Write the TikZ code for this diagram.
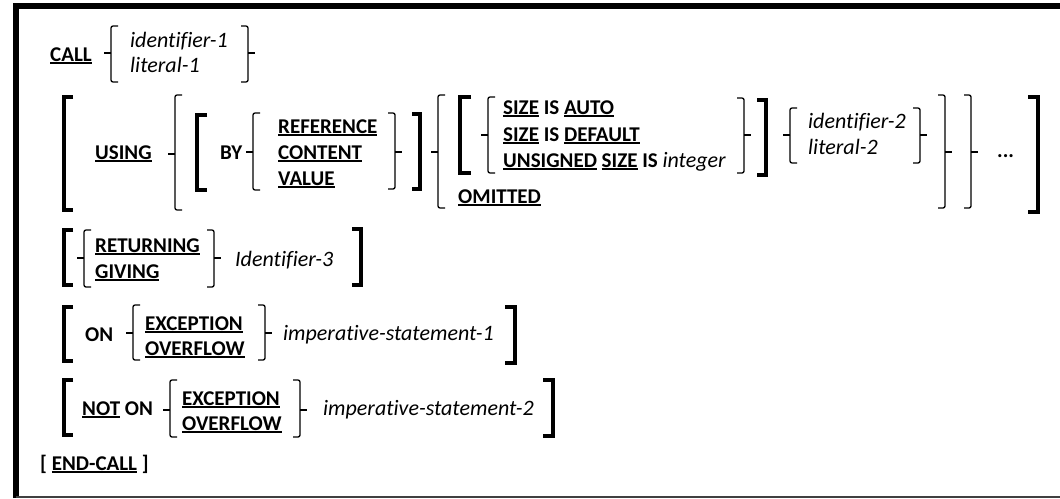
\documentclass[tikz,border=0pt]{standalone}
\usepackage{fontspec}
\setmainfont[Ligatures=NoCommon]{Carlito}
\newcommand\kwu[1]{\setbox0\hbox{\bfseries #1}\rlap{\rule[-2.8pt]{\wd0}{1.5pt}}\copy0\relax}
\newcommand\kwb[1]{\textbf{#1}}
\newcommand\idf[1]{{\fontsize{22}{24}\selectfont\itshape #1}}
\tikzset{
  txt/.style={inner sep=0pt, anchor=base west, font=\fontsize{21}{24}\selectfont},
  br/.style={line width=1.3pt, rounded corners=2pt},
  bk/.style={line width=3.6pt, line join=miter, line cap=butt},
}
% opening brace: xv, top, bottom, mid
\newcommand\obr[4]{\draw[br] ({#1+7},#2) -- (#1,#2) -- (#1,#3) -- ({#1+7},#3); \draw[br] (#1,#4) -- ({#1-7},#4);}
% closing brace
\newcommand\cbr[4]{\draw[br] ({#1-7},#2) -- (#1,#2) -- (#1,#3) -- ({#1-7},#3); \draw[br] (#1,#4) -- ({#1+7},#4);}
% opening bracket: outer-left x, right x, top, bottom
\newcommand\obk[4]{\draw[bk] (#2,{#3+1.8}) -- ({#1+1.8},{#3+1.8}) -- ({#1+1.8},{#4-1.8}) -- (#2,{#4-1.8});}
% closing bracket: outer-right x, left x, top, bottom
\newcommand\cbk[4]{\draw[bk] (#2,{#3+1.8}) -- ({#1-1.8},{#3+1.8}) -- ({#1-1.8},{#4-1.8}) -- (#2,{#4-1.8});}
\begin{document}
\begin{tikzpicture}[x=1pt,y=-1pt]
\useasboundingbox (0,0) rectangle (1060,498);
\fill[white] (0,0) rectangle (1060,498);
% frame
\draw[line width=6pt] (16,498) -- (16,6) -- (1060,6);
\draw[line width=1.5pt, black!75] (16,497) -- (1060,497);

% row 1
\node[txt] (call) at (50,61) {\kwu{CALL}};
\obr{111}{26}{82}{53}
\node[txt] (id1) at (130,47) {\idf{identifier-1}};
\node[txt] (lit1) at (130,72) {\idf{literal-1}};
\cbr{248}{26}{82}{53}

% USING row
\obk{62}{73}{95}{212}
\node[txt] (using) at (95,159) {\kwu{USING}};
\obr{175}{95}{210}{154}
\obk{195}{207}{113}{192}
\node[txt] (by) at (220,159) {\kwb{BY}};
\obr{253}{113}{190}{152}
\node[txt] (ref) at (278,133) {\kwu{REFERENCE}};
\node[txt] (cont) at (278,159) {\kwu{CONTENT}};
\node[txt] (val) at (278,185) {\kwu{VALUE}};
\cbr{395}{113}{189}{152}
\cbk{422}{412}{112}{191}
\obr{438}{95}{208}{152}
\obk{458}{471}{95}{175}
\obr{488}{97}{173}{135}
\node[txt] (s1) at (503,114) {\kwu{SIZE} \kwb{IS} \kwu{AUTO}};
\node[txt] (s2) at (503,141) {\kwu{SIZE} \kwb{IS} \kwu{DEFAULT}};
\node[txt] (s3) at (503,167) {\kwu{UNSIGNED} \kwu{SIZE} \kwb{IS} \idf{integer}};
\cbr{744}{98}{173}{135}
\cbk{768}{757}{98}{177}
\node[txt] (omit) at (458,203) {\kwu{OMITTED}};
\obr{790}{108}{163}{135}
\node[txt] (id2) at (808,128) {\idf{identifier-2}};
\node[txt] (lit2) at (808,154) {\idf{literal-2}};
\cbr{920}{108}{163}{135}
\cbr{945}{95}{208}{152}
\cbr{971}{95}{208}{152}
\node[txt] (dots) at (997,157) {\kwb{...}};
\cbk{1040}{1028}{95}{214}

% RETURNING row
\obk{62}{73}{228}{287}
\obr{84}{230}{287}{258}
\node[txt] (ret) at (95,252) {\kwu{RETURNING}};
\node[txt] (giv) at (95,278) {\kwu{GIVING}};
\cbr{214}{230}{287}{258}
\node[txt] (id3) at (235,266) {\idf{Identifier-3}};
\cbk{363}{352}{227}{287}

% ON row
\obk{62}{73}{305}{363}
\node[txt] (on) at (85,341) {\kwb{ON}};
\obr{133}{305}{360}{333}
\node[txt] (exc1) at (145,330) {\kwu{EXCEPTION}};
\node[txt] (ovf1) at (145,355) {\kwu{OVERFLOW}};
\cbr{265}{305}{360}{333}
\node[txt] (imp1) at (283,340) {\idf{imperative-statement-1}};
\cbk{517}{505}{305}{365}

% NOT ON row
\obk{62}{73}{378}{437}
\node[txt] (noton) at (82,415) {\kwu{NOT} \kwb{ON}};
\obr{170}{380}{437}{410}
\node[txt] (exc2) at (182,405) {\kwu{EXCEPTION}};
\node[txt] (ovf2) at (182,430) {\kwu{OVERFLOW}};
\cbr{300}{380}{437}{410}
\node[txt] (imp2) at (323,415) {\idf{imperative-statement-2}};
\cbk{555}{543}{378}{438}

% END-CALL
\node[txt] (end) at (40,470) {\kwb{[} \kwu{END-CALL} \kwb{]}};
\end{tikzpicture}
\end{document}
